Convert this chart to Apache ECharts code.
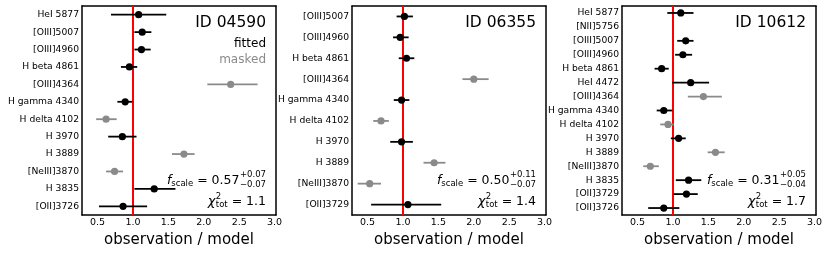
<!DOCTYPE html>
<html><head><meta charset="utf-8">
<script src="https://cdn.jsdelivr.net/npm/echarts@6/dist/echarts.min.js"></script>
<style>html,body{margin:0;padding:0;background:#fff}#c{width:831px;height:253px}</style>
</head><body><div id="c"></div>
<script>
// ---------- data ----------
const lines1 = ['HeI 5877','[OIII]5007','[OIII]4960','H beta 4861','[OIII]4364','H gamma 4340','H delta 4102','H 3970','H 3889','[NeIII]3870','H 3835','[OII]3726'];
const obs1   = [1.08, 1.13, 1.12, 0.95, 2.38, 0.89, 0.62, 0.85, 1.72, 0.74, 1.30, 0.86];
const lo1    = [0.69, 1.02, 1.02, 0.83, 2.05, 0.78, 0.48, 0.65, 1.55, 0.62, 1.02, 0.52];
const hi1    = [1.47, 1.26, 1.25, 1.06, 2.76, 0.99, 0.77, 1.05, 1.87, 0.86, 1.60, 1.20];
const masked1= [0, 0, 0, 0, 1, 0, 1, 0, 1, 1, 0, 0];

const lines2 = ['[OIII]5007','[OIII]4960','H beta 4861','[OIII]4364','H gamma 4340','H delta 4102','H 3970','H 3889','[NeIII]3870','[OII]3729'];
const obs2   = [1.02, 0.96, 1.05, 2.00, 0.98, 0.69, 0.98, 1.44, 0.53, 1.07];
const lo2    = [0.91, 0.86, 0.94, 1.84, 0.87, 0.58, 0.82, 1.29, 0.36, 0.55];
const hi2    = [1.14, 1.08, 1.16, 2.21, 1.09, 0.80, 1.14, 1.60, 0.69, 1.54];
const masked2= [0, 0, 0, 1, 0, 1, 0, 1, 1, 0];

const lines3 = ['HeI 5877','[NII]5756','[OIII]5007','[OIII]4960','H beta 4861','HeI 4472','[OIII]4364','H gamma 4340','H delta 4102','H 3970','H 3889','[NeIII]3870','H 3835','[OII]3729','[OII]3726'];
const obs3   = [1.11, null, 1.18, 1.14, 0.84, 1.25, 1.43, 0.87, 0.93, 1.08, 1.60, 0.68, 1.22, 1.19, 0.87];
const lo3    = [0.92, null, 1.06, 1.03, 0.74, 0.99, 1.21, 0.77, 0.82, 0.97, 1.49, 0.58, 1.04, 1.01, 0.65];
const hi3    = [1.29, null, 1.29, 1.27, 0.94, 1.51, 1.69, 0.99, 1.01, 1.18, 1.73, 0.80, 1.40, 1.35, 1.09];
const masked3= [0, 0, 0, 0, 0, 0, 1, 0, 1, 0, 1, 1, 0, 0, 0];

const xTicks = [0.5, 1.0, 1.5, 2.0, 2.5, 3.0];
const panelIds = ['ID 04590', 'ID 06355', 'ID 10612'];
const fScale = ['0.57', '0.50', '0.31'];
const fPlus  = ['+0.07', '+0.11', '+0.05'];
const fMinus = ['\u22120.07', '\u22120.07', '\u22120.04'];
const chi2   = ['1.1', '1.4', '1.7'];

// ---------- layout ----------
const panels = [
  {lines: lines1, obs: obs1, lo: lo1, hi: hi1, masked: masked1},
  {lines: lines2, obs: obs2, lo: lo2, hi: hi2, masked: masked2},
  {lines: lines3, obs: obs3, lo: lo3, hi: hi3, masked: masked3}
];
const GL = [82, 352, 622], GT = 6, GW = 194, GH = 209;
const XMIN = 0.28, XMAX = 3.02;
const BLACK = '#000', GRAY = '#8a8a8a';
const FONT = '"DejaVu Sans", sans-serif';

const grids = [], xAxes = [], yAxes = [], series = [], graphics = [];

function renderItem(params, api) {
  const yi = api.value(0), v = api.value(1), lo = api.value(2), hi = api.value(3), m = api.value(4);
  const p = api.coord([v, yi]), a = api.coord([lo, yi]), b = api.coord([hi, yi]);
  const col = m ? GRAY : BLACK;
  return {type: 'group', children: [
    {type: 'line', shape: {x1: a[0], y1: a[1], x2: b[0], y2: b[1]}, style: {stroke: col, lineWidth: 1.8}},
    {type: 'circle', shape: {cx: p[0], cy: p[1], r: 3.6}, style: {fill: col}}
  ]};
}

const cv = document.createElement('canvas').getContext('2d');
function tw(text, size, style) { cv.font = (style || '') + ' ' + size + 'px "DejaVu Sans"'; return cv.measureText(text).width; }
function txt(text, x, y, size, opts) {
  opts = opts || {};
  graphics.push({type: 'text', x: x, y: y, z: 100,
    style: {text: text, fill: opts.color || BLACK, font: (opts.style || '') + ' ' + size + 'px ' + FONT,
            textAlign: opts.align || 'right', textVerticalAlign: 'middle'}});
}

panels.forEach((P, i) => {
  grids.push({left: GL[i], top: GT, width: GW, height: GH, containLabel: false});
  const axLine = {show: true, lineStyle: {color: '#000', width: 1.5}};
  xAxes.push({type: 'value', gridIndex: i, position: 'bottom', min: XMIN, max: XMAX,
    axisLine: axLine, splitLine: {show: false},
    axisTick: {inside: true, length: 4, customValues: xTicks, lineStyle: {color: '#000', width: 1}},
    axisLabel: {customValues: xTicks, fontSize: 9.5, color: '#000', fontFamily: FONT, margin: 3,
      formatter: v => v.toFixed(1)},
    name: 'observation / model', nameLocation: 'middle', nameGap: 14,
    nameTextStyle: {fontSize: 15, color: '#000', fontFamily: FONT, verticalAlign: 'top'}});
  xAxes.push({type: 'value', gridIndex: i, position: 'top', min: XMIN, max: XMAX,
    axisLine: axLine, splitLine: {show: false},
    axisTick: {inside: true, length: 4, customValues: xTicks, lineStyle: {color: '#000', width: 1}},
    axisLabel: {show: false}});
  yAxes.push({type: 'category', gridIndex: i, data: P.lines, inverse: true, position: 'left',
    boundaryGap: true, axisLine: axLine,
    axisTick: {inside: true, length: 4, alignWithLabel: true, interval: 0, lineStyle: {color: '#000', width: 1}},
    axisLabel: {interval: 0, fontSize: 9.2, color: '#000', fontFamily: FONT, margin: 3}});
  yAxes.push({type: 'category', gridIndex: i, data: P.lines, inverse: true, position: 'right',
    boundaryGap: true, axisLine: axLine,
    axisTick: {inside: true, length: 4, alignWithLabel: true, interval: 0, lineStyle: {color: '#000', width: 1}},
    axisLabel: {show: false}});

  const data = [];
  P.lines.forEach((name, k) => {
    if (P.obs[k] == null) return;
    data.push([k, P.obs[k], P.lo[k], P.hi[k], P.masked[k]]);
  });
  series.push({type: 'line', xAxisIndex: 2 * i, yAxisIndex: 2 * i, data: [], z: 1,
    markLine: {silent: true, symbol: 'none', animation: false, label: {show: false},
      lineStyle: {color: '#ff0000', width: 2, type: 'solid'}, data: [{xAxis: 1.0}]}});
  series.push({type: 'custom', xAxisIndex: 2 * i, yAxisIndex: 2 * i, renderItem: renderItem,
    encode: {x: [1, 2, 3], y: 0}, data: data, z: 5, animation: false});

  // annotations
  const xR = GL[i] + GW - 10;
  txt(panelIds[i], xR, 23, 15.5);
  if (i === 0) {
    txt('fitted', xR, 44, 12);
    txt('masked', xR, 59.5, 12, {color: GRAY});
  }
  // f_scale line
  const sS = 8.5, mS = 12.5;
  const stackW = Math.max(tw(fPlus[i], sS), tw(fMinus[i], sS));
  const xs = xR - stackW;
  txt(fPlus[i], xs, 174.5, sS, {align: 'left'});
  txt(fMinus[i], xs, 185, sS, {align: 'left'});
  const eq = ' = ' + fScale[i];
  txt(eq, xs - 0.5, 181, mS);
  const x2 = xs - 0.5 - tw(eq, mS);
  txt('scale', x2, 184, 8.5);
  const x3 = x2 - tw('scale', 8.5);
  txt('f', x3, 181, mS, {style: 'italic'});
  // chi2 line
  const eq2 = ' = ' + chi2[i];
  txt(eq2, xR, 201.5, mS);
  const y2 = xR - tw(eq2, mS);
  const stW = Math.max(tw('2', sS), tw('tot', sS));
  txt('2', y2 - stW, 196.5, sS, {align: 'left'});
  txt('tot', y2 - stW, 205, sS, {align: 'left'});
  txt('\u03c7', y2 - stW - 0.3, 202, 13, {style: 'italic'});
});

const chart = echarts.init(document.getElementById('c'), null, {renderer: 'canvas'});
chart.setOption({
  animation: false,
  backgroundColor: '#fff',
  textStyle: {fontFamily: FONT},
  grid: grids, xAxis: xAxes, yAxis: yAxes, series: series, graphic: graphics
});
</script></body></html>
